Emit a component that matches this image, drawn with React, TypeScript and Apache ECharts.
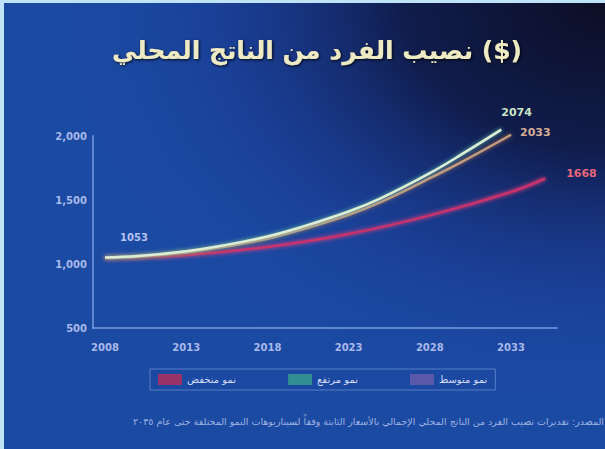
import React, { useEffect, useRef } from "react";
import * as echarts from "echarts";

const titleText = "نصيب الفرد من الناتج المحلي ($)";
const footerText =
  "المصدر: تقديرات نصيب الفرد من الناتج المحلي الإجمالي بالأسعار الثابتة وفقاً لسيناريوهات النمو المختلفة حتى عام ٢٠٣٥";

const xTickYears = [2008, 2013, 2018, 2023, 2028, 2033];
const yTicks = [500, 1000, 1500, 2000];

const seriesNames = ["نمو منخفض", "نمو مرتفع", "نمو متوسط"];

const years = [2008, 2010, 2013, 2015, 2018, 2020, 2023, 2025, 2028, 2030, 2032.4];
const highValues = [1051, 1062, 1100, 1138, 1215, 1285, 1410, 1515, 1710, 1860, 2050];

const midYears = [2008, 2010, 2013, 2015, 2018, 2020, 2023, 2025, 2028, 2030, 2033];
const midValues = [1047, 1056, 1090, 1126, 1198, 1265, 1385, 1485, 1670, 1800, 2010];

const lowYears = [2008, 2013, 2018, 2023, 2028, 2033, 2035.1];
const lowValues = [1047, 1070, 1133, 1234, 1380, 1563, 1668];

const startLabel = "1053";
const endLabels = ["1668", "2074", "2033"];

const pairs = (xs: number[], ys: number[]) => xs.map((x, i) => [x, ys[i]]);

export default function App() {
  const ref = useRef<HTMLDivElement>(null);
  useEffect(() => {
    document.body.style.margin = "0";
    const chart = echarts.init(ref.current!, null, { renderer: "svg" });
    const font = "DejaVu Sans";
    const axisLineStyle = { color: "rgba(120,155,225,0.75)", width: 2 };
    const lineSeries = (
      name: string,
      data: number[][],
      color: string,
      glow: string,
      endText: string,
      endColor: string,
      endOffset: number[],
      z: number
    ) => ({
      name,
      type: "line",
      data,
      smooth: 0.4,
      showSymbol: false,
      clip: false,
      z,
      lineStyle: { color, width: 2.5, shadowBlur: 4, shadowColor: glow },
      itemStyle: { color },
      endLabel: {
        show: true,
        formatter: endText,
        color: endColor,
        fontSize: 11,
        fontWeight: "bold",
        fontFamily: font,
        offset: endOffset,
      },
    });
    chart.setOption({
      animation: false,
      backgroundColor: "#1b4aa3",
      textStyle: { fontFamily: font },
      graphic: [
        {
          type: "rect",
          z: -10,
          silent: true,
          shape: { x: 0, y: 0, width: 605, height: 449 },
          style: {
            fill: new echarts.graphic.RadialGradient(1, 0, 0.95, [
              { offset: 0, color: "rgba(12,14,36,1)" },
              { offset: 0.35, color: "rgba(14,20,60,0.85)" },
              { offset: 0.7, color: "rgba(25,45,130,0.3)" },
              { offset: 1, color: "rgba(27,74,163,0)" },
            ]),
          },
        },
        {
          type: "rect",
          z: 10,
          silent: true,
          shape: { x: 0, y: 0, width: 4, height: 449 },
          style: { fill: "#bfe3f7" },
        },
        {
          type: "rect",
          z: 10,
          silent: true,
          shape: { x: 0, y: 0, width: 605, height: 3 },
          style: { fill: "#bfe3f7" },
        },
        {
          type: "text",
          z: 10,
          x: 317,
          y: 50,
          style: {
            text: titleText,
            font: "bold 25px DejaVu Sans",
            fill: "#eeeac4",
            align: "center",
            verticalAlign: "middle",
            textShadowColor: "rgba(0,0,0,0.9)",
            textShadowBlur: 3,
            textShadowOffsetX: 1,
            textShadowOffsetY: 1,
          },
        },
        {
          type: "text",
          z: 10,
          x: 604,
          y: 421,
          style: {
            text: footerText,
            font: "9.5px DejaVu Sans",
            fill: "#9fb2e2",
            align: "right",
            verticalAlign: "middle",
          },
        },
      ],
      grid: { left: 93, right: 48, top: 136, bottom: 121 },
      xAxis: {
        type: "value",
        min: 2007.26,
        max: 2035.83,
        splitLine: { show: false },
        axisLine: { lineStyle: axisLineStyle },
        axisTick: { show: false },
        axisLabel: {
          customValues: xTickYears,
          color: "#a9b9ea",
          fontSize: 10,
          fontWeight: "bold",
          margin: 14,
          formatter: (v: number) => String(v),
        },
      },
      yAxis: {
        type: "value",
        min: 500,
        max: 2000,
        interval: 500,
        splitLine: { show: false },
        axisLine: { show: true, lineStyle: axisLineStyle },
        axisTick: { show: false },
        axisLabel: {
          customValues: yTicks,
          color: "#a9b9ea",
          fontSize: 10,
          fontWeight: "bold",
          margin: 6,
          formatter: (v: number) => v.toLocaleString("en-US"),
        },
      },
      legend: {
        left: 150,
        top: 369,
        orient: "horizontal",
        itemWidth: 24,
        itemHeight: 11,
        itemGap: 52,
        padding: [5, 8],
        borderColor: "rgba(130,160,225,0.6)",
        borderWidth: 1,
        backgroundColor: "rgba(30,70,160,0.3)",
        textStyle: { color: "#d4dcf8", fontSize: 10, fontFamily: font },
        data: [
          { name: seriesNames[0], icon: "rect", itemStyle: { color: "#9a3468" } },
          { name: seriesNames[1], icon: "rect", itemStyle: { color: "#2f8f92" } },
          { name: seriesNames[2], icon: "rect", itemStyle: { color: "#5a58a8" } },
        ],
      },
      series: [
        lineSeries(
          seriesNames[0],
          pairs(lowYears, lowValues),
          "#c8336c",
          "#ff3c78",
          endLabels[0],
          "#e8687a",
          [13, -5],
          2
        ),
        lineSeries(
          seriesNames[2],
          pairs(midYears, midValues),
          "#c49a80",
          "#a07050",
          endLabels[2],
          "#d6ae96",
          [1, -2],
          3
        ),
        {
          ...lineSeries(
            seriesNames[1],
            pairs(years, highValues),
            "#dcefd6",
            "#5fc0a8",
            endLabels[1],
            "#c8e4c4",
            [-8, -17],
            4
          ),
          markPoint: {
            silent: true,
            symbol: "circle",
            symbolSize: 1,
            itemStyle: { color: "rgba(0,0,0,0)" },
            data: [
              {
                coord: [2008, 1053],
                label: {
                  show: true,
                  position: "inside",
                  offset: [29, -20],
                  formatter: startLabel,
                  color: "#b9c2f2",
                  fontSize: 10,
                  fontWeight: "bold",
                  fontFamily: font,
                },
              },
            ],
          },
        },
      ],
    });
    return () => chart.dispose();
  }, []);
  return <div ref={ref} style={{ width: 605, height: 449 }} />;
}
